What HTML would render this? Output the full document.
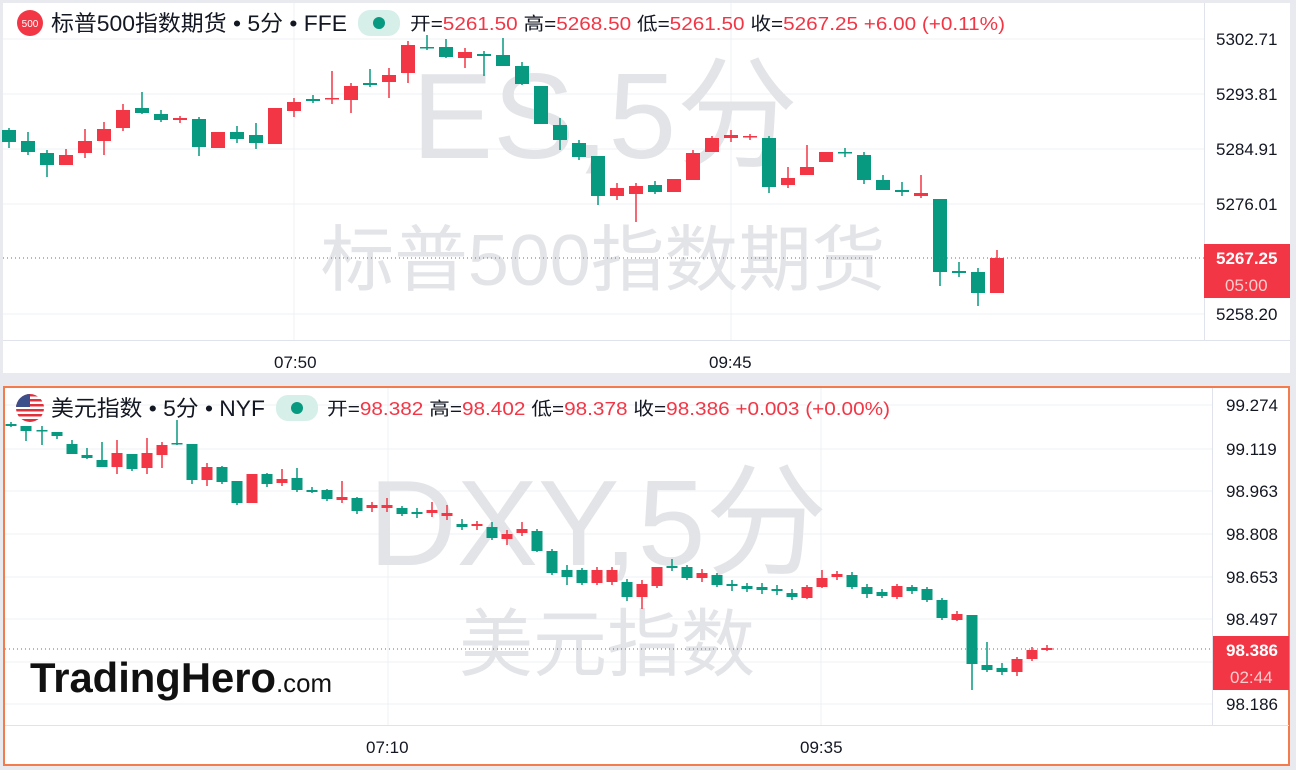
<!DOCTYPE html>
<html><head><meta charset="utf-8">
<style>
body{margin:0;width:1296px;height:770px;background:#e8eaef;font-family:"Liberation Sans","Noto Sans CJK SC",sans-serif;overflow:hidden;position:relative}
svg{position:absolute;left:0;top:0}
</style></head><body>
<svg id="s" width="1296" height="770" xmlns="http://www.w3.org/2000/svg" font-family="Liberation Sans, Noto Sans CJK SC, sans-serif">
<rect x="3" y="3" width="1287" height="370" fill="#fff"/>
<rect x="4" y="387" width="1285" height="378" fill="#fff" stroke="#f47c4c" stroke-width="2"/>
<g stroke="#eef0f3" stroke-width="1">
<line x1="3" x2="1204" y1="39" y2="39"/><line x1="3" x2="1204" y1="94" y2="94"/><line x1="3" x2="1204" y1="149" y2="149"/><line x1="3" x2="1204" y1="204" y2="204"/><line x1="3" x2="1204" y1="314" y2="314"/>
<line x1="294" x2="294" y1="3" y2="340"/><line x1="731" x2="731" y1="3" y2="340"/>
<line x1="5" x2="1212" y1="405" y2="405"/><line x1="5" x2="1212" y1="449" y2="449"/><line x1="5" x2="1212" y1="491" y2="491"/><line x1="5" x2="1212" y1="534" y2="534"/><line x1="5" x2="1212" y1="577" y2="577"/><line x1="5" x2="1212" y1="619" y2="619"/><line x1="5" x2="1212" y1="662" y2="662"/><line x1="5" x2="1212" y1="704" y2="704"/>
<line x1="388" x2="388" y1="388" y2="725"/><line x1="821" x2="821" y1="388" y2="725"/>
</g>
<g stroke="#e0e3eb"><line x1="1204.5" x2="1204.5" y1="3" y2="340"/><line x1="3" x2="1290" y1="340.5" y2="340.5"/>
<line x1="1212.5" x2="1212.5" y1="388" y2="725"/><line x1="5" x2="1289" y1="725.5" y2="725.5"/></g>
<g fill="#e3e4e8" text-anchor="middle">
<text x="605" y="158" font-size="122">ES,5分</text>
<text x="603" y="285" font-size="72" textLength="565" lengthAdjust="spacingAndGlyphs">标普500指数期货</text>
<text x="598" y="565" font-size="122">DXY,5分</text>
<text x="607" y="670" font-size="74">美元指数</text>
</g>
<g id="c"></g>
<line x1="3" x2="1204" y1="258" y2="258" stroke="#f23645" stroke-dasharray="1,3"/>
<line x1="5" x2="1212" y1="649" y2="649" stroke="#f23645" stroke-dasharray="1,3"/>
<g font-size="17" fill="#131722">
<text x="1216" y="45">5302.71</text><text x="1216" y="100">5293.81</text><text x="1216" y="155">5284.91</text><text x="1216" y="210">5276.01</text><text x="1216" y="320">5258.20</text>
<text x="1226" y="411">99.274</text><text x="1226" y="455">99.119</text><text x="1226" y="497">98.963</text><text x="1226" y="540">98.808</text><text x="1226" y="583">98.653</text><text x="1226" y="625">98.497</text><text x="1226" y="710">98.186</text>
<text x="274" y="368">07:50</text><text x="709" y="368">09:45</text>
<text x="366" y="753">07:10</text><text x="800" y="753">09:35</text>
</g>
<rect x="1204" y="244" width="86" height="54" fill="#f23645"/>
<text x="1216" y="264" font-size="17" fill="#fff" font-weight="bold">5267.25</text>
<text x="1225" y="291" font-size="17" fill="#fcc">05:00</text>
<rect x="1213" y="636" width="76" height="54" fill="#f23645"/>
<text x="1226" y="656" font-size="17" fill="#fff" font-weight="bold">98.386</text>
<text x="1230" y="683" font-size="17" fill="#fcc">02:44</text>
<circle cx="30" cy="23" r="13" fill="#f23645"/><text x="30" y="27" font-size="10" fill="#fff" text-anchor="middle">500</text>
<text x="51" y="31" font-size="22" fill="#131722" textLength="296" lengthAdjust="spacingAndGlyphs">标普500指数期货 • 5分 • FFE</text>
<rect x="358" y="10" width="42" height="26" rx="12" fill="#d7efe9"/><circle cx="379" cy="23" r="6" fill="#089981"/>
<text x="410" y="30" font-size="18" fill="#131722" textLength="595" lengthAdjust="spacingAndGlyphs">开=<tspan fill="#f23645">5261.50</tspan> 高=<tspan fill="#f23645">5268.50</tspan> 低=<tspan fill="#f23645">5261.50</tspan> 收=<tspan fill="#f23645">5267.25 +6.00 (+0.11%)</tspan></text>
<clipPath id="fl"><circle cx="30" cy="408" r="14"/></clipPath>
<g clip-path="url(#fl)"><rect x="16" y="394" width="28" height="28" fill="#fff"/>
<g fill="#e0303c"><rect x="16" y="394" width="28" height="2.5"/><rect x="16" y="399" width="28" height="2.5"/><rect x="16" y="404" width="28" height="2.5"/><rect x="16" y="409" width="28" height="2.5"/><rect x="16" y="414" width="28" height="2.5"/><rect x="16" y="419" width="28" height="3"/></g>
<rect x="16" y="394" width="14" height="13" fill="#3c4f8a"/></g>
<text x="51" y="416" font-size="22" fill="#131722" textLength="214" lengthAdjust="spacingAndGlyphs">美元指数 • 5分 • NYF</text>
<rect x="276" y="395" width="42" height="26" rx="12" fill="#d7efe9"/><circle cx="297" cy="408" r="6" fill="#089981"/>
<text x="327" y="415" font-size="18" fill="#131722" textLength="563" lengthAdjust="spacingAndGlyphs">开=<tspan fill="#f23645">98.382</tspan> 高=<tspan fill="#f23645">98.402</tspan> 低=<tspan fill="#f23645">98.378</tspan> 收=<tspan fill="#f23645">98.386 +0.003 (+0.00%)</tspan></text>
<text x="30" y="692" font-size="42" font-weight="bold" fill="#111" textLength="302" lengthAdjust="spacingAndGlyphs">TradingHero<tspan font-size="26" font-weight="normal">.com</tspan></text>
</svg>
<script>
var G='#089981',R='#f23645';
var topData=[[9,130,142,128,148,G],[28,141,152,132,155,G],[47,153,165,150,177,G],[66,155,165,149,165,R],[85,141,153,129,158,R],[104,129,141,122,155,R],[123,110,128,104,131,R],[142,108,113,92,114,G],[161,114,120,110,122,G],[180,118,120,116,123,R],[199,119,147,117,156,G],[218,132,148,132,148,R],[237,132,139,126,143,G],[256,135,143,123,149,G],[275,108,144,108,144,R],[294,102,111,98,117,R],[313,99,101,95,103,G],[332,98,99,71,104,R],[351,86,100,83,113,R],[370,83,85,69,87,G],[389,75,82,68,98,R],[408,45,73,41,83,R],[427,47,48,35,50,G],[446,47,57,39,58,G],[465,52,58,48,68,R],[484,54,56,51,76,G],[503,55,66,38,66,G],[522,66,84,62,85,G],[541,86,124,86,124,G],[560,125,140,118,150,G],[579,143,157,140,160,G],[598,156,196,156,205,G],[617,188,196,183,200,R],[636,186,194,183,222,R],[655,185,192,181,194,G],[674,179,192,179,192,R],[693,153,180,150,180,R],[712,138,152,136,152,R],[731,135,138,130,142,R],[750,136,137,134,140,R],[769,138,187,136,193,G],[788,178,185,167,188,R],[807,167,175,145,175,R],[826,152,162,152,162,R],[845,152,153,148,157,G],[864,155,180,152,184,G],[883,180,190,175,190,G],[902,190,192,182,196,G],[921,193,196,175,198,R],[940,199,272,199,286,G],[959,271,273,262,277,G],[978,272,293,268,306,G],[997,258,293,250,293,R]];
var botData=[[11,424,426,422,427,G],[26,426,431,426,441,G],[42,430,431,426,445,G],[57,432,436,432,439,G],[72,444,454,440,454,G],[87,455,458,448,459,G],[102,460,467,442,467,G],[117,453,467,440,474,R],[132,454,469,454,471,G],[147,453,468,438,474,R],[162,445,455,442,468,R],[177,443,444,420,445,G],[192,444,480,444,484,G],[207,467,480,463,486,R],[222,467,482,466,484,G],[237,481,503,481,505,G],[252,474,503,474,503,R],[267,474,484,473,487,G],[282,479,483,469,486,R],[297,478,490,468,492,G],[312,490,492,487,493,G],[327,490,499,489,501,G],[342,497,500,481,503,R],[357,498,511,497,514,G],[372,505,508,502,512,R],[387,505,508,498,512,R],[402,508,514,506,516,G],[417,512,514,508,518,G],[432,510,513,502,517,R],[447,513,516,505,520,R],[462,524,527,519,530,G],[477,524,526,521,530,R],[492,527,538,522,540,G],[507,534,539,530,545,R],[522,529,533,522,536,R],[537,531,551,529,552,G],[552,551,573,549,575,G],[567,570,577,565,585,G],[582,570,583,568,585,G],[597,570,583,567,585,R],[612,570,582,567,585,R],[627,582,597,579,601,G],[642,584,597,580,609,R],[657,567,586,567,588,R],[672,566,568,559,571,G],[687,567,578,565,580,G],[702,573,578,569,582,R],[717,575,585,573,587,G],[732,584,586,580,591,G],[747,586,589,583,592,G],[762,587,590,583,594,G],[777,589,591,585,595,G],[792,593,597,589,600,G],[807,587,598,585,599,R],[822,578,587,570,588,R],[837,574,577,571,580,R],[852,575,587,572,589,G],[867,587,594,584,598,G],[882,592,596,589,598,G],[897,586,597,584,599,R],[912,587,591,585,594,G],[927,589,600,587,602,G],[942,600,618,598,620,G],[957,614,620,611,621,R],[972,615,664,615,690,G],[987,665,670,642,672,G],[1002,668,672,663,675,G],[1017,659,672,657,676,R],[1032,650,659,647,661,R],[1047,648,650,645,651,R]];
var NS='http://www.w3.org/2000/svg',grp=document.getElementById('c');
function el(n,a){var e=document.createElementNS(NS,n);for(var k in a)e.setAttribute(k,a[k]);grp.appendChild(e);}
function draw(a,w){a.forEach(function(c){var x=c[0];
el('line',{x1:x,x2:x,y1:c[3],y2:c[4],stroke:c[5],'stroke-width':1.5});
el('rect',{x:x-w/2,y:c[1],width:w,height:Math.max(1.5,c[2]-c[1]),fill:c[5]});});}
draw(topData,14);draw(botData,11);
</script>
</body></html>
